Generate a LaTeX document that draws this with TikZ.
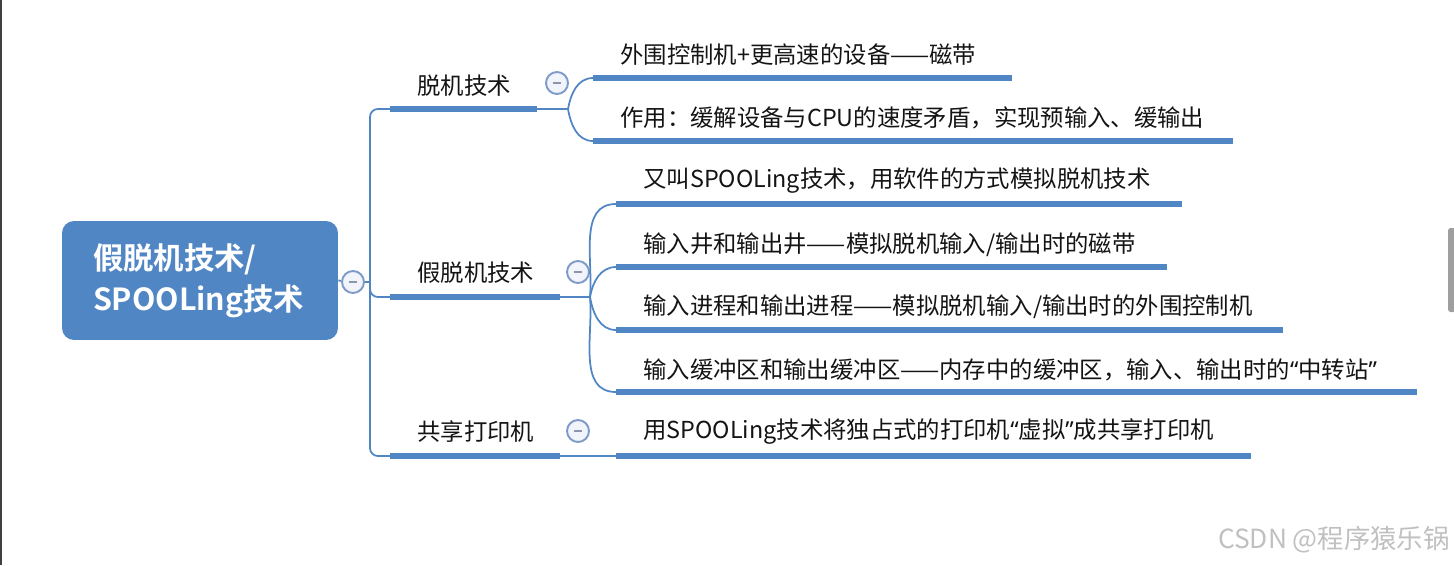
\documentclass[tikz,border=0pt]{standalone}
\usepackage{fontspec}
\setmainfont{Noto Sans CJK SC}[BoldFont=* Bold]
\newfontfamily\quotefont{Noto Sans}
\usetikzlibrary{positioning}
\definecolor{mapblue}{RGB}{80,134,196}
\definecolor{knobline}{RGB}{126,154,200}
\definecolor{knobfill}{RGB}{241,244,250}
\definecolor{knobdash}{RGB}{140,150,170}
\definecolor{marktext}{RGB}{192,192,192}
\newcommand{\openq}{{\quotefont “}}
\newcommand{\closeq}{{\quotefont ”}}
\begin{document}
\begin{tikzpicture}[x=0.02cm, y=-0.02cm,
        topic/.style={anchor=west, inner sep=0pt, text=black!92,
          font=\fontsize{13.3}{16}\selectfont},
        root/.style={fill=mapblue, rounded corners=0.24cm, text=white,
          minimum width=5.52cm, minimum height=2.38cm, inner xsep=0.62cm,
          text width=4.28cm, align=left,
          font=\fontsize{17.3}{23.3}\selectfont\bfseries},
        bar/.style={mapblue, line width=3.1pt},
        link/.style={mapblue, line width=1pt},
        knob/.style={circle, draw=knobline, fill=knobfill, line width=1.1pt,
          minimum size=0.44cm, inner sep=0pt,
          path picture={\draw[knobdash, line width=1.1pt]
            ([xshift=-2.4pt]path picture bounding box.center) --
            ([xshift=2.4pt]path picture bounding box.center);}}]
        \useasboundingbox (0,0) rectangle (1454,565);
        \fill[black!75] (0,0) rectangle (2.5,565);
        \fill[gray!75, rounded corners=1.5pt] (1448,228) rectangle (1456,312);

        \node[root] (root) at (200,280.5) {假脱机技术/\\SPOOLing技术};
        \node[knob] (rootknob) at (353,282) {};
        \coordinate (hub) at (370,282);
        \draw[link] (root.east) -- (rootknob);
        \draw[link] (rootknob) -- (hub);

        \node[topic] (off) at (417,86) {脱机技术};
        \coordinate (offL) at (390,109);
        \coordinate (offR) at (537,109);
        \coordinate (offfork) at (568,109);
        \node[knob] (offknob) at (557,83) {};
        \draw[link, rounded corners=4.5pt] (hub) |- (offL);
        \draw[bar] (offL) -- (offR);
        \draw[link] (offR) -- (offfork);

        \node[topic] (periph) at (620,55) {外围控制机+更高速的设备——磁带};
        \coordinate (periphL) at (593,78);
        \coordinate (periphR) at (1012,78);
        \draw[bar] (periphL) -- (periphR);
        \draw[link] (offfork) to[out=80, in=180] (periphL);

        \node[topic] (use) at (620,118) {作用：缓解设备与CPU的速度矛盾，实现预输入、缓输出};
        \coordinate (useL) at (593,141);
        \coordinate (useR) at (1233,141);
        \draw[bar] (useL) -- (useR);
        \draw[link] (offfork) to[out=-80, in=180] (useL);

        \node[topic] (fake) at (417,273) {假脱机技术};
        \coordinate (fakeL) at (390,297);
        \coordinate (fakeR) at (560,297);
        \coordinate (fakefork) at (590,297);
        \node[knob] (fakeknob) at (578,272) {};
        \draw[link, rounded corners=4.5pt] (hub) |- (fakeL);
        \draw[bar] (fakeL) -- (fakeR);
        \draw[link] (fakeR) -- (fakefork);

        \node[topic] (alias) at (643,181) {又叫SPOOLing技术，用软件的方式模拟脱机技术};
        \coordinate (aliasL) at (616,204);
        \coordinate (aliasR) at (1182,204);
        \draw[bar] (aliasL) -- (aliasR);
        \draw[link] (fakefork) to[out=85, in=180] (aliasL);

        \node[topic] (well) at (643,245) {输入井和输出井——模拟脱机输入/输出时的磁带};
        \coordinate (wellL) at (616,267);
        \coordinate (wellR) at (1167,267);
        \draw[bar] (wellL) -- (wellR);
        \draw[link] (fakefork) to[out=80, in=180] (wellL);

        \node[topic] (proc) at (643,307) {输入进程和输出进程——模拟脱机输入/输出时的外围控制机};
        \coordinate (procL) at (616,330);
        \coordinate (procR) at (1283,330);
        \draw[bar] (procL) -- (procR);
        \draw[link] (fakefork) to[out=-80, in=180] (procL);

        \node[topic] (buf) at (643,370) {输入缓冲区和输出缓冲区——内存中的缓冲区，输入、输出时的\openq 中转站\closeq};
        \coordinate (bufL) at (616,392);
        \coordinate (bufR) at (1417,392);
        \draw[bar] (bufL) -- (bufR);
        \draw[link] (fakefork) to[out=-85, in=180] (bufL);

        \node[topic] (share) at (417,432) {共享打印机};
        \coordinate (shareL) at (390,456);
        \coordinate (shareR) at (560,456);
        \node[knob] (shareknob) at (578,431) {};
        \draw[link, rounded corners=4.5pt] (hub) |- (shareL);
        \draw[bar] (shareL) -- (shareR);

        \node[topic] (virt) at (643,432) {用SPOOLing技术将独占式的打印机\openq 虚拟\closeq 成共享打印机};
        \coordinate (virtL) at (616,456);
        \coordinate (virtR) at (1251,456);
        \draw[bar] (virtL) -- (virtR);
        \draw[link] (shareR) -- (virtL);

        \node[anchor=east, inner sep=0pt, text=marktext,
          font=\fontsize{15}{18}\selectfont] (mark) at (1450,540) {CSDN @程序猿乐锅};
\end{tikzpicture}
\end{document}
